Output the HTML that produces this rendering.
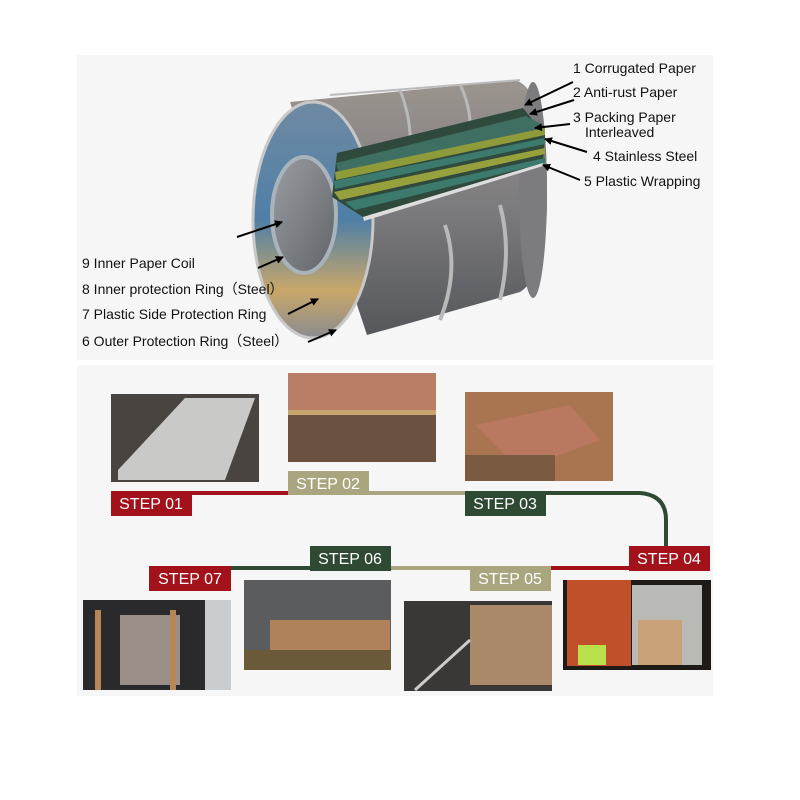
<!DOCTYPE html>
<html><head><meta charset="utf-8"><style>
body{margin:0;background:#fff}
svg{display:block}
text{font-family:"Liberation Sans","Noto Sans CJK SC",sans-serif}
</style></head><body>
<svg width="800" height="800" viewBox="0 0 800 800" xmlns="http://www.w3.org/2000/svg">
<defs>
<marker id="ar" markerWidth="8" markerHeight="8" refX="7" refY="4" orient="auto" markerUnits="userSpaceOnUse"><path d="M0,0 L8,4 L0,8 z" fill="#000"/></marker>
<linearGradient id="body" x1="0" y1="0" x2="0" y2="1"><stop offset="0" stop-color="#9c958f"/><stop offset="0.5" stop-color="#7c7b7d"/><stop offset="1" stop-color="#55575b"/></linearGradient>
<linearGradient id="face" x1="0" y1="0" x2="0" y2="1"><stop offset="0" stop-color="#6f8aa3"/><stop offset="0.5" stop-color="#4f7fa6"/><stop offset="0.8" stop-color="#c9a76a"/><stop offset="1" stop-color="#8a8c8e"/></linearGradient>
<linearGradient id="hole" x1="0" y1="0" x2="1" y2="1"><stop offset="0" stop-color="#9a9ea2"/><stop offset="1" stop-color="#606468"/></linearGradient>
</defs>
<rect x="77" y="55" width="636" height="305" fill="#f6f6f6"/>
<rect x="77" y="365" width="636" height="331" fill="#f6f6f6"/>

<path d="M290,102 L515,80 Q548,90 547,200 Q547,275 520,292 L367,335 Z" fill="url(#body)"/>
<ellipse cx="533" cy="190" rx="14" ry="108" fill="#7c7c7e"/>
<path d="M330,95 L520,80" stroke="#bbb" stroke-width="2" fill="none"/>
<path d="M445,225 Q460,270 440,320" stroke="#b9b9b9" stroke-width="4" fill="none"/>
<path d="M500,205 Q512,250 500,300" stroke="#b9b9b9" stroke-width="4" fill="none"/>
<path d="M400,90 Q412,120 410,150" stroke="#b9b9b9" stroke-width="3" fill="none"/>
<path d="M460,84 Q472,110 470,135" stroke="#b9b9b9" stroke-width="3" fill="none"/>
<ellipse cx="313" cy="220" rx="60" ry="118" fill="url(#face)" stroke="#c8c8c8" stroke-width="3"/>
<ellipse cx="304" cy="215" rx="32" ry="58" fill="url(#hole)" stroke="#a9b3bb" stroke-width="4"/>
<polygon points="337,153 523,108 545,135 543,163 363,217 332,197" fill="#2f4a3c"/>
<polygon points="336,163 526,116 545,126 545,132 340,176" fill="#3f6e63"/>
<polygon points="335,172 545,128 545,135 336,180" fill="#8f9a3a"/>
<polygon points="334,181 545,138 545,144 335,189" fill="#3c7a6e"/>
<polygon points="334,192 545,148 545,154 340,200" fill="#96a03c"/>
<polygon points="345,202 545,158 545,163 355,210" fill="#3c7a6e"/>
<polygon points="363,217 543,163 543,166 364,221" fill="#ddd"/>

<g font-size="14" fill="#111">
<text x="573" y="73">1 Corrugated Paper</text>
<text x="573" y="97">2 Anti-rust Paper</text>
<text x="573" y="122">3 Packing Paper</text>
<text x="585" y="137">Interleaved</text>
<text x="593" y="161">4 Stainless Steel</text>
<text x="584" y="186">5 Plastic Wrapping</text>
<text x="82" y="268">9 Inner Paper Coil</text>
<text x="82" y="294">8 Inner protection Ring（Steel）</text>
<text x="82" y="319">7 Plastic Side Protection Ring</text>
<text x="82" y="346">6 Outer Protection Ring（Steel）</text>
</g>
<g stroke="#000" stroke-width="2" marker-end="url(#ar)" fill="none">
<line x1="573" y1="82" x2="525" y2="105"/>
<line x1="574" y1="100" x2="530" y2="114"/>
<line x1="570" y1="124" x2="535" y2="128"/>
<line x1="587" y1="152" x2="545" y2="139"/>
<line x1="580" y1="180" x2="543" y2="165"/>
<line x1="237" y1="237" x2="282" y2="222"/>
<line x1="258" y1="268" x2="283" y2="257"/>
<line x1="288" y1="314" x2="318" y2="299"/>
<line x1="308" y1="342" x2="336" y2="330"/>
</g>

<g fill="none" stroke-width="4">
<line x1="190" y1="493" x2="288" y2="493" stroke="#a3121b"/>
<line x1="369" y1="493" x2="465" y2="493" stroke="#a9a67f"/>
<path d="M546,493 L640,493 Q666,495 666,520 L666,546" stroke="#2e4a33"/>
<line x1="551" y1="568" x2="629" y2="568" stroke="#a3121b"/>
<line x1="391" y1="568" x2="470" y2="568" stroke="#a9a67f"/>
<line x1="231" y1="568" x2="310" y2="568" stroke="#2e4a33"/>
</g>
<g font-size="16" fill="#fff" text-anchor="middle">
<rect x="111" y="491" width="81" height="25" fill="#a3121b"/><text x="151" y="509">STEP 01</text>
<rect x="288" y="471" width="81" height="24" fill="#a9a67f"/><text x="328" y="489">STEP 02</text>
<rect x="465" y="491" width="81" height="25" fill="#2e4a33"/><text x="505" y="509">STEP 03</text>
<rect x="629" y="546" width="81" height="25" fill="#a3121b"/><text x="669" y="564">STEP 04</text>
<rect x="470" y="566" width="81" height="25" fill="#a9a67f"/><text x="510" y="584">STEP 05</text>
<rect x="310" y="546" width="81" height="25" fill="#2e4a33"/><text x="350" y="564">STEP 06</text>
<rect x="149" y="566" width="82" height="25" fill="#a3121b"/><text x="190" y="584">STEP 07</text>
</g>

<rect x="111" y="394" width="148" height="88" fill="#4a4440"/>
<polygon points="118,470 185,398 255,398 225,480 118,480" fill="#c9c9c7"/>
<rect x="288" y="373" width="148" height="89" fill="#6b5240"/>
<rect x="288" y="373" width="148" height="40" fill="#b97e66"/>
<rect x="288" y="410" width="148" height="5" fill="#c5a36a"/>
<rect x="465" y="392" width="148" height="89" fill="#a87550"/>
<polygon points="475,425 570,405 600,440 520,470" fill="#b9785f"/>
<rect x="465" y="455" width="90" height="26" fill="#7a5a40"/>

<rect x="83" y="600" width="148" height="90" fill="#2a2a2c"/>
<rect x="120" y="615" width="60" height="70" fill="#9a8e86"/>
<rect x="95" y="610" width="6" height="80" fill="#b68755"/>
<rect x="170" y="610" width="6" height="80" fill="#b68755"/>
<rect x="205" y="600" width="26" height="90" fill="#c9cdd0"/>
<rect x="244" y="580" width="147" height="90" fill="#5a5c5e"/>
<rect x="270" y="620" width="120" height="30" fill="#b0825a"/>
<rect x="244" y="650" width="147" height="20" fill="#6a5a3a"/>
<rect x="404" y="601" width="148" height="90" fill="#3a3836"/>
<rect x="470" y="605" width="82" height="80" fill="#a9896a"/>
<line x1="415" y1="690" x2="470" y2="640" stroke="#ccc" stroke-width="3"/>
<rect x="563" y="580" width="148" height="90" fill="#1e1a18"/>
<rect x="567" y="580" width="64" height="86" fill="#c0502a"/>
<rect x="632" y="585" width="70" height="80" fill="#b9b9b5"/>
<rect x="638" y="620" width="44" height="45" fill="#c9a278"/>
<rect x="578" y="645" width="28" height="20" fill="#b8e04a"/>
</svg>
</body></html>
